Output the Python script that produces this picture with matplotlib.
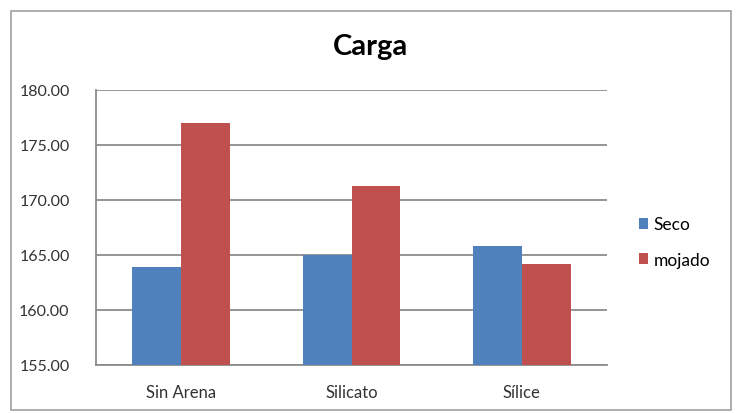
import matplotlib.pyplot as plt
import numpy as np
from matplotlib.patches import Rectangle

categories = ['Sin Arena', 'Silicato', 'Sílice']
seco = [163.9, 165.0, 165.8]
mojado = [177.0, 171.3, 164.2]
yticks = [155, 160, 165, 170, 175, 180]

plt.rcParams['font.family'] = ['Lato', 'DejaVu Sans']

fig = plt.figure(figsize=(7.38, 4.14), dpi=100)
W, H = 738, 414
ax = fig.add_axes([96 / W, 1 - 366 / H, (607 - 96) / W, (366 - 91) / H])

x = np.arange(len(categories))
w = 0.286
ax.bar(x - w / 2, np.array(seco) - 155, w, bottom=155, color='#4f81bd', label='Seco', zorder=3)
ax.bar(x + w / 2, np.array(mojado) - 155, w, bottom=155, color='#c0504d', label='mojado', zorder=3)

ax.set_xlim(-0.5, 2.5)
ax.set_ylim(155, 180)
ax.set_yticks(yticks)
ax.set_yticklabels(['%.2f' % v for v in yticks], fontsize=11.5, color='#333333')
ax.set_xticks(x)
ax.set_xticklabels(categories, fontsize=12, color='#333333')
ax.tick_params(axis='x', length=0, pad=14)
ax.tick_params(axis='y', length=0, pad=19)
ax.grid(axis='y', color='#8c8c8c', linewidth=1.3, zorder=0)
for s in ['top', 'right']:
    ax.spines[s].set_visible(False)
for s in ['left', 'bottom']:
    ax.spines[s].set_color('#8c8c8c')
    ax.spines[s].set_linewidth(1.3)

fig.text(371 / W, 1 - 47 / H, 'Carga', ha='center', va='center', fontsize=21, fontweight='bold')

leg = fig.legend(loc='center left', bbox_to_anchor=(623 / W, 1 - 243 / H), frameon=False,
                 fontsize=12.5, handlelength=0.55, handleheight=0.55, labelspacing=1.1,
                 handletextpad=0.3)

fig.patches.append(Rectangle((11 / W, 1 - 411 / H), 720 / W, 399 / H, transform=fig.transFigure,
                             fill=False, edgecolor='#a0a0a0', linewidth=1.2))

fig.savefig('out.png', dpi=100)
